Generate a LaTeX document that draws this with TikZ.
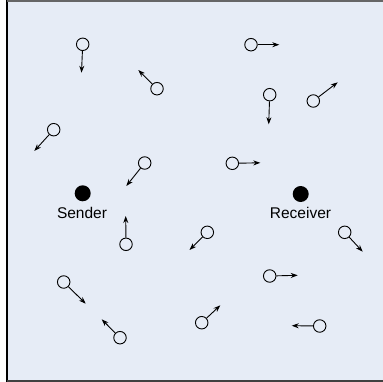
\documentclass[tikz,border=0pt]{standalone}
\usepackage{fontspec}
\setmainfont{Liberation Sans}
\usetikzlibrary{arrows.meta}
\definecolor{bgblue}{RGB}{230,236,246}
\begin{document}
\begin{tikzpicture}[x=1pt,y=-1pt,
  host/.style={circle,draw=black,fill=bgblue,line width=0.9pt,minimum size=12.5pt,inner sep=0pt},
  endpt/.style={circle,fill=black,minimum size=16pt,inner sep=0pt},
  move/.style={line width=0.9pt,-{Stealth[length=7pt,width=5pt]}},
  lbl/.style={font=\fontsize{15.5}{18}\selectfont,anchor=base,inner sep=0pt}]
\useasboundingbox (0,0) rectangle (382,382);
\fill[bgblue] (7,1) rectangle (383,381);
\draw[black,line width=1.6pt] (7,0.5) -- (7,381.5);
\draw[gray!80!black,line width=1.6pt] (7,0.8) -- (383,0.8);
\draw[black!75,line width=1.6pt] (7,380.8) -- (383,380.8);
% sender / receiver
\node[endpt] (s) at (82.7,193.3) {};
\node[lbl] (sl) at (82,218.5) {Sender};
\node[endpt] (r) at (300.7,194) {};
\node[lbl] (rl) at (300.5,218.5) {Receiver};
% hosts and motion
\node[host] (n1) at (82.7,44.3) {};   \coordinate (t1) at (81.5,72.7);
\node[host] (n2) at (157,88.7) {};    \coordinate (t2) at (138.3,70);
\node[host] (n3) at (53.7,129.7) {};  \coordinate (t3) at (34.3,151);
\node[host] (n4) at (144.7,163) {};   \coordinate (t4) at (126.3,186);
\node[host] (n5) at (251,44.7) {};    \coordinate (t5) at (279.3,44.7);
\node[host] (n6) at (269.7,94.7) {};  \coordinate (t6) at (268.7,124.3);
\node[host] (n7) at (313.3,101) {};   \coordinate (t7) at (337.7,82.3);
\node[host] (n8) at (232.3,163.3) {}; \coordinate (t8) at (260.3,162.8);
\node[host] (n9) at (126,244.3) {};   \coordinate (t9) at (125.7,216);
\node[host] (n10) at (63.7,282) {};   \coordinate (t10) at (85.7,303.7);
\node[host] (n11) at (120,337.7) {};  \coordinate (t11) at (101.7,319.3);
\node[host] (n12) at (207.3,232.3) {};\coordinate (t12) at (189.5,250);
\node[host] (n13) at (344.7,232.3) {};\coordinate (t13) at (362.7,251.7);
\node[host] (n14) at (269.7,276) {};  \coordinate (t14) at (297.7,275.3);
\node[host] (n15) at (201.7,322.7) {};\coordinate (t15) at (220.3,305.3);
\node[host] (n16) at (319.7,326) {};  \coordinate (t16) at (291.7,325.7);
\foreach \i in {1,...,16} { \draw[move] (n\i) -- (t\i); }
\end{tikzpicture}
\end{document}
